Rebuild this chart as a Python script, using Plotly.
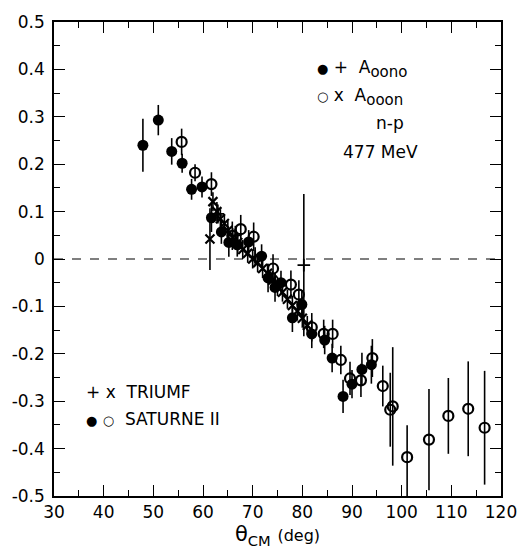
import plotly.graph_objects as go

# SATURNE II, A_oono (filled circles)
sat_oono_theta = [47.9, 51.0, 53.7, 55.8, 57.7, 59.8, 61.7, 63.7, 65.2, 66.9, 69.2, 71.8,
                  73.1, 74.5, 75.7, 78.0, 79.9, 81.9, 84.5, 86.0, 88.2, 90.0, 92.0, 93.9]
sat_oono_A = [0.240, 0.293, 0.227, 0.202, 0.147, 0.152, 0.087, 0.057, 0.035, 0.030, 0.036, 0.006,
              -0.040, -0.060, -0.050, -0.124, -0.096, -0.158, -0.171, -0.209, -0.290, -0.264, -0.233, -0.223]
sat_oono_err = [0.056, 0.032, 0.028, 0.020, 0.022, 0.022, 0.030, 0.025, 0.030, 0.025, 0.025, 0.025,
                0.030, 0.030, 0.025, 0.030, 0.030, 0.030, 0.030, 0.030, 0.035, 0.030, 0.035, 0.040]

# SATURNE II, A_ooon (open circles)
sat_ooon_theta = [55.7, 58.4, 61.7, 65.9, 67.6, 70.2, 74.1, 77.7, 79.3, 81.9, 84.3, 86.1, 87.75,
                  89.6, 91.8, 94.1, 96.2, 97.7, 98.2, 101.1, 105.5, 109.4, 113.4, 116.7]
sat_ooon_A = [0.247, 0.182, 0.158, 0.049, 0.063, 0.047, -0.020, -0.054, -0.075, -0.144, -0.158, -0.158, -0.213,
              -0.252, -0.256, -0.209, -0.268, -0.318, -0.311, -0.418, -0.381, -0.331, -0.316, -0.356]
sat_ooon_err_plus = [0.028, 0.018, 0.025, 0.030, 0.030, 0.030, 0.030, 0.030, 0.030, 0.030, 0.030, 0.030, 0.030,
                     0.035, 0.035, 0.040, 0.043, 0.078, 0.125, 0.067, 0.107, 0.080, 0.100, 0.120]
sat_ooon_err_minus = [0.028, 0.018, 0.025, 0.030, 0.030, 0.030, 0.030, 0.030, 0.030, 0.030, 0.030, 0.030, 0.030,
                      0.035, 0.035, 0.040, 0.043, 0.078, 0.125, 0.110, 0.107, 0.080, 0.100, 0.120]

# TRIUMF, A_ooon (x)
tri_ooon_theta = [61.4, 62.0, 62.8, 63.5, 64.3, 65.0, 66.0, 67.0, 68.0, 69.0, 70.0, 71.0,
                  72.0, 73.0, 74.0, 75.0, 76.0, 77.0, 78.0, 79.0, 80.0, 81.0]
tri_ooon_A = [0.042, 0.121, 0.100, 0.085, 0.075, 0.060, 0.045, 0.035, 0.020, 0.012, 0.000, -0.008,
              -0.020, -0.030, -0.045, -0.058, -0.070, -0.085, -0.098, -0.110, -0.125, -0.140]
tri_ooon_err = [0.065, 0.020, 0.020, 0.020, 0.020, 0.020, 0.020, 0.020, 0.020, 0.020, 0.020, 0.020,
                0.020, 0.020, 0.020, 0.020, 0.020, 0.020, 0.020, 0.020, 0.020, 0.020]

# TRIUMF, A_oono (+)
tri_oono_theta = [63.0, 66.5, 70.5, 74.5, 80.3]
tri_oono_A = [0.095, 0.050, 0.005, -0.050, -0.013]
tri_oono_err = [0.020, 0.020, 0.020, 0.020, 0.150]

y_tickvals = [0.5, 0.4, 0.3, 0.2, 0.1, 0.0, -0.1, -0.2, -0.3, -0.4, -0.5]
y_ticktext = ["0.5", "0.4", "0.3", "0.2", "0.1", "0", "-0.1", "-0.2", "-0.3", "-0.4", "-0.5"]
y_minor = [0.45, 0.35, 0.25, 0.15, 0.05, -0.05, -0.15, -0.25, -0.35, -0.45]
x_tickvals = [30, 40, 50, 60, 70, 80, 90, 100, 110, 120]
x_ticktext = ["30", "40", "50", "60", "70", "80", "90", "100", "110", "120"]
x_minor = [35, 45, 55, 65, 75, 85, 95, 105, 115]

FONT = "DejaVu Sans"
err_style = dict(type="data", color="black", thickness=1.6, width=0)

fig = go.Figure()
fig.add_trace(go.Scatter(
    x=tri_ooon_theta, y=tri_ooon_A, mode="markers",
    marker=dict(symbol="x-thin", size=9, line=dict(color="black", width=2.2)),
    error_y=dict(array=tri_ooon_err, **err_style)))
fig.add_trace(go.Scatter(
    x=tri_oono_theta, y=tri_oono_A, mode="markers",
    marker=dict(symbol="cross-thin", size=9, line=dict(color="black", width=1.8)),
    error_y=dict(array=tri_oono_err, **err_style)))
fig.add_trace(go.Scatter(
    x=sat_ooon_theta, y=sat_ooon_A, mode="markers",
    marker=dict(symbol="circle-open", size=10, color="black", line=dict(color="black", width=2.2)),
    error_y=dict(array=sat_ooon_err_plus, arrayminus=sat_ooon_err_minus, symmetric=False, **err_style)))
fig.add_trace(go.Scatter(
    x=sat_oono_theta, y=sat_oono_A, mode="markers",
    marker=dict(symbol="circle", size=11, color="black"),
    error_y=dict(array=sat_oono_err, **err_style)))

fig.add_hline(y=0, line=dict(color="black", width=1.2, dash="dash"))

ann_font = dict(family=FONT, size=17, color="black")
SYM = "<span style='font-size:13px'>{}</span>"
fig.add_annotation(x=82.6, y=0.401, xref="x", yref="y", xanchor="left", yanchor="middle", showarrow=False,
                   text=SYM.format("●") + " + &nbsp;A<sub><span style='font-size:15px'>oono</span></sub>", font=ann_font)
fig.add_annotation(x=82.6, y=0.342, xref="x", yref="y", xanchor="left", yanchor="middle", showarrow=False,
                   text=SYM.format("○") + " x &nbsp;A<sub><span style='font-size:15px'>ooon</span></sub>", font=ann_font)
fig.add_annotation(x=97.6, y=0.287, xref="x", yref="y", xanchor="center", yanchor="middle", showarrow=False,
                   text="n-p", font=ann_font)
fig.add_annotation(x=95.8, y=0.225, xref="x", yref="y", xanchor="center", yanchor="middle", showarrow=False,
                   text="477 MeV", font=ann_font)
fig.add_annotation(x=36.0, y=-0.281, xref="x", yref="y", xanchor="left", yanchor="middle", showarrow=False,
                   text="+ x  TRIUMF", font=ann_font)
fig.add_annotation(x=36.0, y=-0.337, xref="x", yref="y", xanchor="left", yanchor="middle", showarrow=False,
                   text=SYM.format("●") + " " + SYM.format("○") + "  SATURNE II", font=ann_font)

axis_common = dict(showline=True, linecolor="black", linewidth=1.6, mirror="allticks",
                   ticks="inside", ticklen=11, tickwidth=1.4, tickcolor="black",
                   showgrid=False, zeroline=False,
                   tickfont=dict(family=FONT, size=17, color="black"))
fig.update_xaxes(range=[30, 120], tickvals=x_tickvals, ticktext=x_ticktext,
                 minor=dict(ticks="inside", tickvals=x_minor,
                            ticklen=6, tickwidth=1.4, tickcolor="black", showgrid=False),
                 title=dict(text="θ<sub>CM</sub> <span style='font-size:16px'>(deg)</span>",
                            font=dict(family=FONT, size=21, color="black"), standoff=2),
                 **axis_common)
fig.update_yaxes(range=[-0.5, 0.5], tickvals=y_tickvals, ticktext=y_ticktext,
                 minor=dict(ticks="inside", tickvals=y_minor,
                            ticklen=6, tickwidth=1.4, tickcolor="black", showgrid=False),
                 ticklabelstandoff=4,
                 **axis_common)

fig.update_layout(width=529, height=551, margin=dict(l=49, r=19, t=15, b=52),
                  paper_bgcolor="white", plot_bgcolor="white", showlegend=False)

fig.write_html("out.html")
